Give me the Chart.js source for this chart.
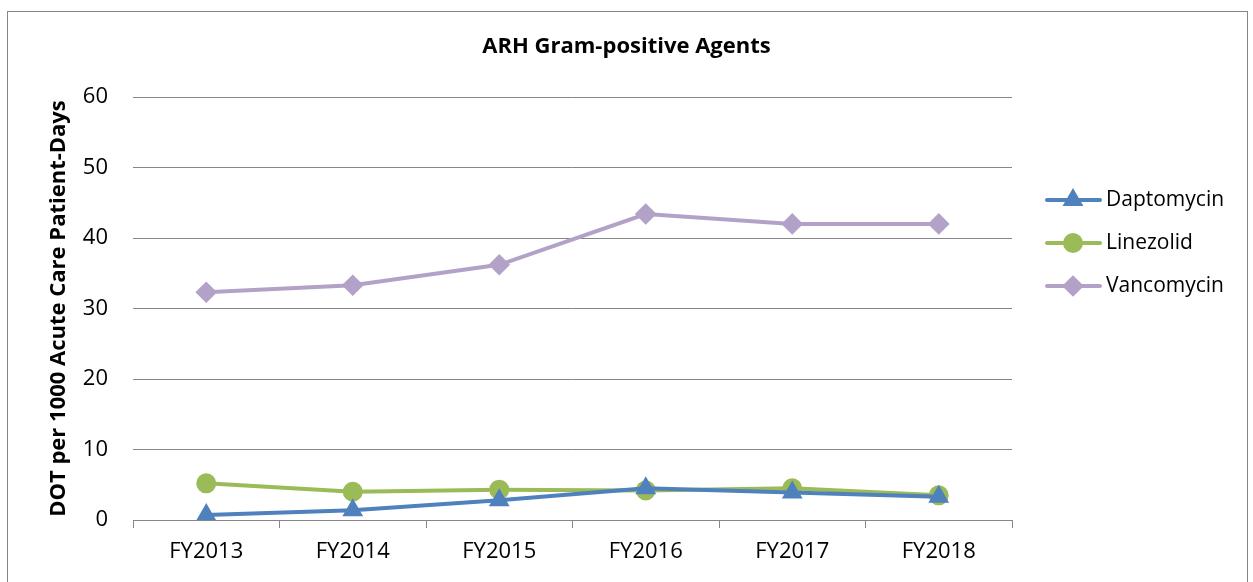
<!DOCTYPE html>
<html>
<head>
<meta charset="utf-8">
<script src="https://cdn.jsdelivr.net/npm/chart.js@4.4.0/dist/chart.umd.min.js"></script>
<style>
  html, body { margin: 0; padding: 0; background: #fff; }
  #wrap { width: 1253px; height: 582px; position: relative; }
</style>
</head>
<body>
<div id="wrap"><canvas id="grafico"></canvas></div>
<script>
const anos = ['FY2013', 'FY2014', 'FY2015', 'FY2016', 'FY2017', 'FY2018'];
const daptomycin = [0.7, 1.4, 2.8, 4.5, 3.9, 3.3];
const linezolid = [5.2, 4.0, 4.3, 4.2, 4.5, 3.5];
const vancomycin = [32.3, 33.3, 36.2, 43.4, 42.0, 42.0];
const ticksY = [0, 10, 20, 30, 40, 50, 60];
const titulo = 'ARH Gram-positive Agents';

const fonte = '"Open Sans", sans-serif';

// moldura, titulo centrado na figura e legenda com linha + marcador
const extras = {
  id: 'extras',
  beforeDraw(chart) {
    const ctx = chart.ctx;
    ctx.save();
    ctx.strokeStyle = '#868686';
    ctx.lineWidth = 1;
    ctx.strokeRect(7.5, 11.5, 1240, 600);
    ctx.fillStyle = '#000';
    ctx.font = 'bold 22px ' + fonte;
    ctx.textAlign = 'center';
    ctx.textBaseline = 'middle';
    ctx.fillText(titulo, chart.width / 2, 47);
    ctx.restore();
  },
  afterDraw(chart) {
    const ctx = chart.ctx;
    const x0 = chart.chartArea.right + 35;
    let y = 200;
    chart.data.datasets.forEach(ds => {
      ctx.save();
      ctx.strokeStyle = ds.borderColor;
      ctx.lineWidth = 4;
      ctx.lineCap = 'round';
      ctx.beginPath();
      ctx.moveTo(x0, y);
      ctx.lineTo(x0 + 53, y);
      ctx.stroke();
      Chart.helpers.drawPoint(ctx, {
        pointStyle: ds.pointStyle,
        radius: ds.pointRadius,
        rotation: 0,
        borderWidth: 1
      }, x0 + 26, y);
      ctx.fillStyle = ds.borderColor;
      ctx.fill();
      ctx.fillStyle = '#000';
      ctx.font = '21px ' + fonte;
      ctx.textBaseline = 'middle';
      ctx.textAlign = 'left';
      ctx.fillText(ds.label, x0 + 59, y);
      ctx.restore();
      y += 43;
    });
  }
};

function serie(nome, dados, cor, estilo, raio) {
  return {
    label: nome,
    data: dados,
    borderColor: cor,
    backgroundColor: cor,
    pointBackgroundColor: cor,
    pointBorderColor: cor,
    borderWidth: 4,
    pointStyle: estilo,
    pointRadius: raio,
    pointHoverRadius: raio,
    tension: 0
  };
}

const ctx = document.getElementById('grafico').getContext('2d');
new Chart(ctx, {
  type: 'line',
  data: {
    labels: anos,
    datasets: [
      serie('Daptomycin', daptomycin, '#4F81BD', 'triangle', 8),
      serie('Linezolid', linezolid, '#9BBB59', 'circle', 8),
      serie('Vancomycin', vancomycin, '#B3A2C7', 'rectRot', 8)
    ]
  },
  plugins: [extras],
  options: {
    responsive: true,
    maintainAspectRatio: false,
    animation: false,
    layout: { padding: { left: 0, right: 241, top: 97, bottom: 0 } },
    plugins: {
      legend: { display: false },
      tooltip: { enabled: false },
      title: { display: false }
    },
    scales: {
      x: {
        offset: true,
        afterFit: s => { s.height = 62; },
        grid: {
          offset: true,
          drawOnChartArea: false,
          drawTicks: true,
          tickLength: 8,
          color: '#868686'
        },
        border: { color: '#868686', width: 1 },
        ticks: {
          color: '#000',
          padding: 11,
          font: { family: fonte, size: 22 }
        }
      },
      y: {
        min: 0,
        max: 60,
        afterFit: s => { s.width = 133; },
        afterBuildTicks: s => { s.ticks = ticksY.map(v => ({ value: v })); },
        grid: { color: '#868686', drawTicks: false },
        border: { display: false },
        ticks: {
          color: '#000',
          padding: 25,
          font: { family: fonte, size: 22 }
        },
        title: {
          display: true,
          text: 'DOT per 1000 Acute Care Patient-Days',
          color: '#000',
          font: { family: fonte, size: 22, weight: 'bold' },
          padding: { top: 46, bottom: 0 }
        }
      }
    }
  }
});
</script>
</body>
</html>
